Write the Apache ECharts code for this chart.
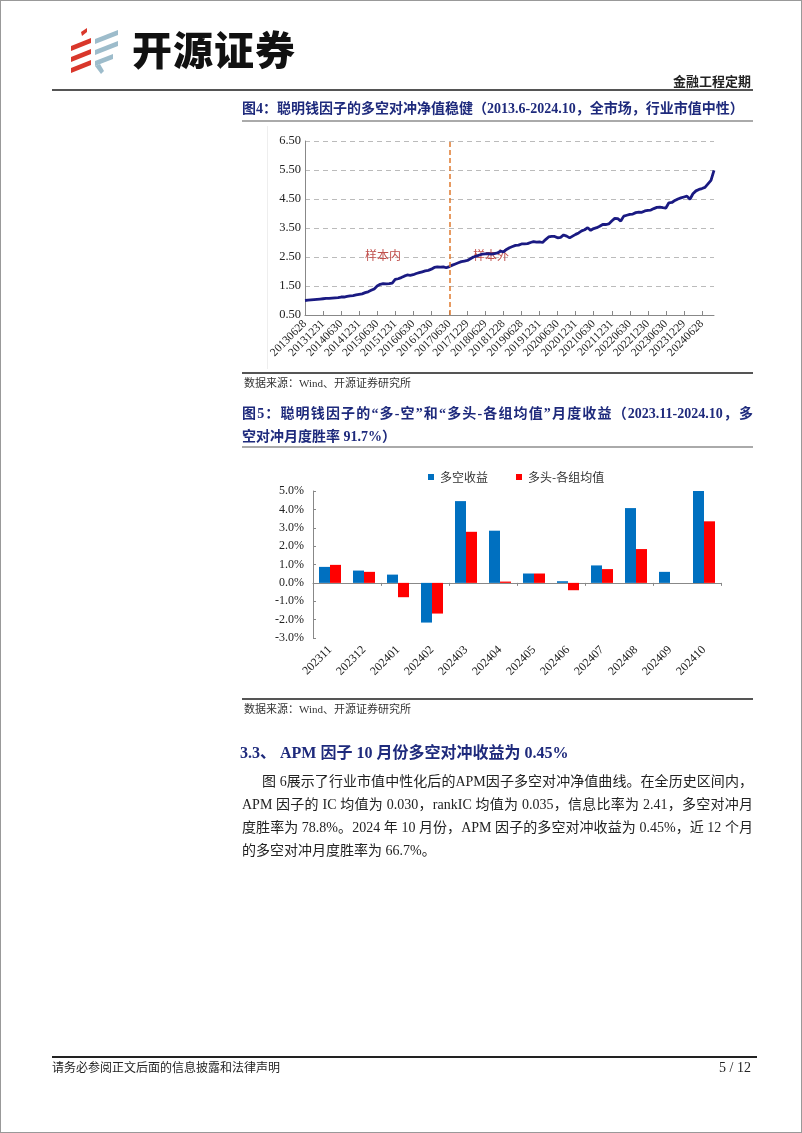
<!DOCTYPE html>
<html>
<head>
<meta charset="utf-8">
<script src="https://cdn.jsdelivr.net/npm/echarts@6/dist/echarts.min.js"></script>
<style>
html,body{margin:0;padding:0;background:#fff;}
#page{position:relative;width:802px;height:1133px;overflow:hidden;box-sizing:border-box;border:1px solid #999;}
#chart{position:absolute;left:0;top:0;width:802px;height:1133px;}
.t{position:absolute;white-space:nowrap;font-family:"Liberation Serif","Noto Sans CJK SC",serif;color:#222;z-index:2;}
.rule{position:absolute;z-index:2;}
.title{font-weight:bold;color:#1e2a7c;font-size:14px;}
.para{position:absolute;left:241px;width:511px;font-family:"Liberation Serif","Noto Sans CJK SC",serif;font-size:14px;color:#222;text-align:justify;text-align-last:justify;white-space:nowrap;z-index:2;}
</style>
</head>
<body>
<div id="page">
<div id="chart"></div>
<div class="t" style="left:131px;top:22px;font-family:'Noto Sans CJK SC';font-weight:900;font-size:40px;line-height:50px;color:#111;letter-spacing:1px;">开源证券</div>
<div class="t" style="right:50px;top:71px;font-family:'Noto Sans CJK SC';font-weight:bold;font-size:13px;line-height:18px;">金融工程定期</div>
<div class="rule" style="left:51px;top:88px;width:701px;height:2px;background:#555;"></div>
<div class="t title" style="left:241px;top:99px;line-height:18px;">图4：聪明钱因子的多空对冲净值稳健（2013.6-2024.10，全市场，行业市值中性）</div>
<div class="rule" style="left:241px;top:119px;width:511px;height:2px;background:#aaa;"></div>
<div class="rule" style="left:266px;top:125px;width:1px;height:243px;background:#eee;"></div>
<div class="rule" style="left:241px;top:371px;width:511px;height:2px;background:#555;"></div>
<div class="t" style="left:243px;top:374px;font-size:11px;line-height:16px;color:#333;">数据来源：Wind、开源证券研究所</div>
<div class="para title" style="top:404px;line-height:18px;font-weight:bold;color:#1e2a7c;">图5：聪明钱因子的“多-空”和“多头-各组均值”月度收益（2023.11-2024.10，多</div>
<div class="t title" style="left:241px;top:427px;line-height:18px;">空对冲月度胜率 91.7%）</div>
<div class="rule" style="left:241px;top:445px;width:511px;height:2px;background:#aaa;"></div>
<div class="rule" style="left:241px;top:697px;width:511px;height:2px;background:#555;"></div>
<div class="t" style="left:243px;top:700px;font-size:11px;line-height:16px;color:#333;">数据来源：Wind、开源证券研究所</div>
<div class="t" style="left:239px;top:741px;font-size:16px;line-height:22px;font-weight:bold;color:#1e2a7c;">3.3、 APM 因子 10 月份多空对冲收益为 0.45%</div>
<div class="para" style="top:770px;left:261px;width:491px;line-height:22px;">图 6展示了行业市值中性化后的APM因子多空对冲净值曲线。在全历史区间内，</div>
<div class="para" style="top:793px;line-height:22px;">APM 因子的 IC 均值为 0.030，rankIC 均值为 0.035，信息比率为 2.41，多空对冲月</div>
<div class="para" style="top:816px;line-height:22px;">度胜率为 78.8%。2024 年 10 月份，APM 因子的多空对冲收益为 0.45%，近 12 个月</div>
<div class="t" style="left:241px;top:839px;font-size:14px;line-height:22px;">的多空对冲月度胜率为 66.7%。</div>
<div class="rule" style="left:51px;top:1055px;width:705px;height:2px;background:#222;"></div>
<div class="t" style="left:51px;top:1059px;font-size:12px;line-height:16px;">请务必参阅正文后面的信息披露和法律声明</div>
<div class="t" style="right:50px;top:1058px;font-size:14px;line-height:18px;">5 / 12</div>
</div>
<script>
// ---- Figure 4: long-short NAV (month-end) ----
const navDates = [
'20130628','20130731','20130830','20130930','20131031','20131129','20131231',
'20140130','20140228','20140331','20140430','20140530','20140630','20140731','20140829','20140930','20141031','20141128','20141231',
'20150130','20150227','20150331','20150430','20150529','20150630','20150731','20150831','20150930','20151030','20151130','20151231',
'20160129','20160229','20160331','20160429','20160531','20160630','20160729','20160831','20160930','20161031','20161130','20161230',
'20170126','20170228','20170331','20170428','20170531','20170630','20170731','20170831','20170929','20171031','20171130','20171229',
'20180131','20180228','20180330','20180427','20180531','20180629','20180731','20180831','20180928','20181031','20181130','20181228',
'20190131','20190228','20190329','20190430','20190531','20190628','20190731','20190830','20190930','20191031','20191129','20191231',
'20200123','20200228','20200331','20200430','20200529','20200630','20200731','20200831','20200930','20201030','20201130','20201231',
'20210129','20210226','20210331','20210430','20210531','20210630','20210730','20210831','20210930','20211029','20211130','20211231',
'20220128','20220228','20220331','20220429','20220531','20220630','20220729','20220831','20220930','20221031','20221130','20221230',
'20230131','20230228','20230331','20230428','20230531','20230630','20230731','20230831','20230928','20231031','20231130','20231229',
'20240131','20240229','20240329','20240430','20240531','20240628','20240731','20240830','20240930','20241031'
];
const navValues = [
1.00,1.01,1.02,1.03,1.04,1.05,1.06,
1.07,1.07,1.08,1.09,1.10,1.12,1.12,1.14,1.16,1.17,1.19,1.21,
1.23,1.27,1.30,1.35,1.40,1.50,1.56,1.58,1.57,1.58,1.60,1.73,
1.75,1.79,1.84,1.88,1.87,1.89,1.93,1.96,1.99,2.02,2.04,2.08,
2.14,2.16,2.15,2.16,2.13,2.17,2.22,2.26,2.30,2.34,2.36,2.38,
2.44,2.50,2.53,2.57,2.60,2.61,2.62,2.60,2.62,2.64,2.70,2.68,
2.76,2.82,2.86,2.90,2.91,2.95,2.95,2.96,3.00,3.03,3.01,3.02,
3.00,3.10,3.19,3.21,3.21,3.16,3.18,3.26,3.22,3.16,3.22,3.28,
3.33,3.40,3.44,3.51,3.42,3.48,3.51,3.56,3.62,3.62,3.64,3.74,
3.83,3.82,3.74,3.91,3.94,3.97,3.98,4.03,4.05,4.04,4.09,4.11,
4.12,4.17,4.21,4.22,4.20,4.19,4.37,4.38,4.45,4.50,4.54,4.57,
4.60,4.49,4.68,4.78,4.83,4.86,4.90,5.02,5.14,5.49
];
const splitDate = '20170630';
const sampleLabels = ['样本内', '样本外'];

// ---- Figure 5: monthly returns (%) ----
const barMonths = ['202311','202312','202401','202402','202403','202404','202405','202406','202407','202408','202409','202410'];
const longShortRet = [0.87, 0.67, 0.45, -2.16, 4.45, 2.84, 0.51, 0.09, 0.95, 4.07, 0.60, 5.02];
const longAvgRet   = [0.98, 0.60, -0.78, -1.67, 2.78, 0.07, 0.51, -0.40, 0.75, 1.84, 0.00, 3.35];
const barSeriesNames = ['多空收益', '多头-各组均值'];

const serif = 'Liberation Serif';
const cjk = 'Noto Sans CJK SC';
const every6 = function (i) { return i % 6 === 0; };

const chart = echarts.init(document.getElementById('chart'), null, {renderer: 'canvas'});
chart.setOption({
  animation: false,
  backgroundColor: 'transparent',
  grid: [
    {left: 304, right: 89, top: 140, bottom: 819, containLabel: false},
    {left: 312, right: 82, top: 490, bottom: 496, containLabel: false}
  ],
  legend: {
    data: barSeriesNames,
    left: 422, top: 465,
    icon: 'rect', itemWidth: 6, itemHeight: 6, itemGap: 28,
    textStyle: {fontFamily: cjk, fontSize: 12, color: '#333', padding: [0,0,0,1]}
  },
  xAxis: [
    {
      gridIndex: 0, type: 'category', data: navDates, boundaryGap: false,
      axisLine: {lineStyle: {color: '#888', width: 1}},
      axisTick: {show: true, inside: true, length: 4, interval: every6, lineStyle: {color: '#888'}},
      axisLabel: {interval: every6, rotate: 45, fontFamily: serif, fontSize: 11.5, color: '#222', margin: 7},
      splitLine: {show: false}
    },
    {
      gridIndex: 1, type: 'category', data: barMonths, position: 'bottom',
      axisLine: {show: false, onZero: false},
      axisTick: {show: false},
      axisLabel: {rotate: 45, fontFamily: serif, fontSize: 12, color: '#222', margin: 10},
      splitLine: {show: false}
    },
    {
      gridIndex: 1, type: 'category', data: barMonths, position: 'bottom',
      axisLine: {show: true, onZero: true, lineStyle: {color: '#888', width: 1}},
      axisTick: {show: true, length: 3, lineStyle: {color: '#888'}},
      axisLabel: {show: false},
      splitLine: {show: false}
    }
  ],
  yAxis: [
    {
      gridIndex: 0, type: 'value', min: 0.5, max: 6.5, interval: 1,
      axisLine: {show: true, lineStyle: {color: '#888'}},
      axisTick: {show: false},
      axisLabel: {fontFamily: serif, fontSize: 12.5, color: '#222', margin: 4,
                  formatter: function (v) { return v.toFixed(2); }},
      splitLine: {show: true, lineStyle: {color: '#bbb', type: [5, 4], width: 1}}
    },
    {
      gridIndex: 1, type: 'value', min: -3, max: 5, interval: 1,
      axisLine: {show: true, lineStyle: {color: '#888'}},
      axisTick: {show: true, inside: true, length: 3, lineStyle: {color: '#888'}},
      axisLabel: {fontFamily: serif, fontSize: 12, color: '#222', margin: 9,
                  formatter: function (v) { return v.toFixed(1) + '%'; }},
      splitLine: {show: false}
    }
  ],
  series: [
    {
      type: 'line', xAxisIndex: 0, yAxisIndex: 0, data: navValues,
      showSymbol: false, symbol: 'none',
      lineStyle: {color: '#1a1a82', width: 2.8},
      z: 3,
      markLine: {
        silent: true, symbol: 'none',
        label: {show: false},
        lineStyle: {color: '#e07a2e', type: [5, 3], width: 1.5},
        data: [{xAxis: splitDate}]
      }
    },
    {
      name: barSeriesNames[0], type: 'bar', xAxisIndex: 1, yAxisIndex: 1,
      data: longShortRet, barWidth: 11, barGap: '0%',
      itemStyle: {color: '#0070c0'}
    },
    {
      name: barSeriesNames[1], type: 'bar', xAxisIndex: 1, yAxisIndex: 1,
      data: longAvgRet, barWidth: 11, barGap: '0%',
      itemStyle: {color: '#ff0000'}
    }
  ],
  graphic: [
    // logo: red stripes
    {type: 'polygon', shape: {points: [[80,31],[86,27],[86,31],[81,35]]}, style: {fill: '#d9372b'}},
    {type: 'polygon', shape: {points: [[70,45],[90,37],[90,42],[70,50]]}, style: {fill: '#d9372b'}},
    {type: 'polygon', shape: {points: [[70,56],[90,48],[90,53],[70,61]]}, style: {fill: '#d9372b'}},
    {type: 'polygon', shape: {points: [[70,67],[90,59],[90,64],[70,72]]}, style: {fill: '#d9372b'}},
    // logo: blue stripes
    {type: 'polygon', shape: {points: [[94,38],[117,29],[117,34],[94,43]]}, style: {fill: '#9dbccb'}},
    {type: 'polygon', shape: {points: [[94,49],[117,40],[117,45],[94,54]]}, style: {fill: '#9dbccb'}},
    {type: 'polygon', shape: {points: [[94,60],[112,53],[112,58],[94,65]]}, style: {fill: '#9dbccb'}},
    {type: 'polygon', shape: {points: [[94,65],[99,63],[103,70],[100,73]]}, style: {fill: '#9dbccb'}},
    // in-sample / out-of-sample annotations
    {type: 'text', left: 364, top: 248, z: 1,
     style: {text: sampleLabels[0], fill: '#c0504d', font: '12px "Noto Sans CJK SC"'}},
    {type: 'text', left: 472, top: 248, z: 1,
     style: {text: sampleLabels[1], fill: '#c0504d', font: '12px "Noto Sans CJK SC"'}}
  ]
});
</script>
</body>
</html>
